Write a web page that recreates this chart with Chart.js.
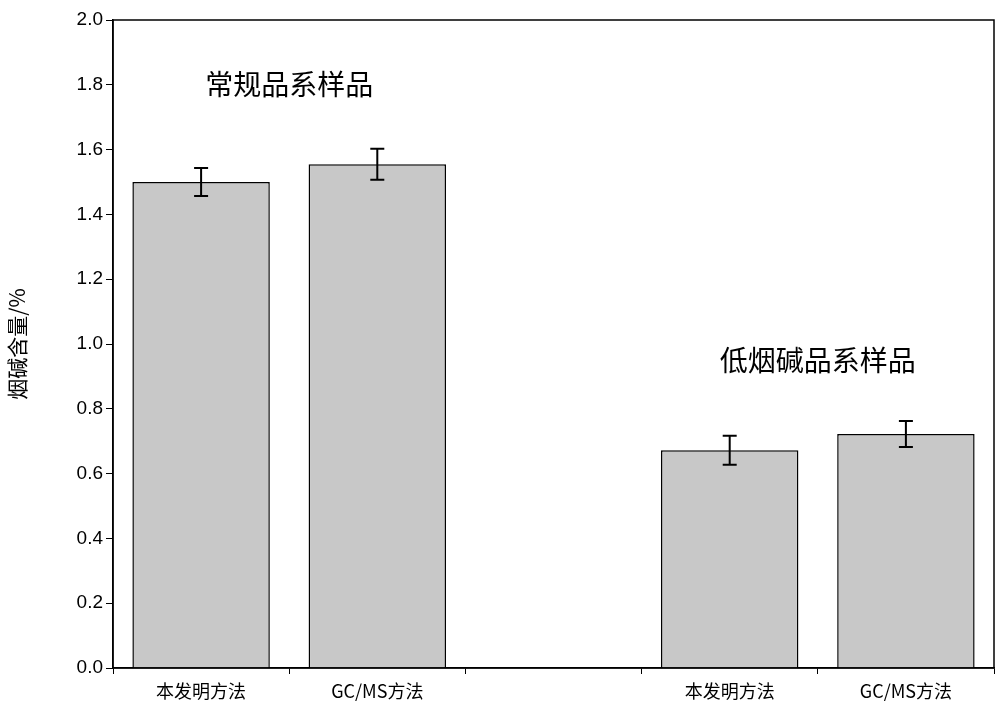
<!DOCTYPE html>
<html><head><meta charset="utf-8">
<script src="https://cdn.jsdelivr.net/npm/chart.js@4"></script>
<style>body{margin:0;background:#fff}#w{width:1000px;height:723px}</style>
</head><body><div id="w"><canvas id="c"></canvas></div>
<script>
const categories = ['本发明方法','GC/MS方法','','本发明方法','GC/MS方法'];
const values = [1.50, 1.555, null, 0.672, 0.722];
const errors = [0.043, 0.048, null, 0.045, 0.04];
const groupLabels = ['常规品系样品','低烟碱品系样品'];
const groupLabelPos = [[0.5,1.8],[3.5,0.95]];
const FONT = '"Noto Sans CJK SC", "Liberation Sans", sans-serif';

const extras = {
  id:'extras',
  afterDatasetsDraw(chart){
    const {ctx, scales:{x,y}, chartArea:a} = chart;
    ctx.save();
    ctx.strokeStyle='#000'; ctx.lineWidth=2;
    values.forEach((v,i)=>{
      if(v==null) return;
      const px=x.getPixelForValue(i), t=y.getPixelForValue(v+errors[i]), b=y.getPixelForValue(v-errors[i]);
      ctx.beginPath();
      ctx.moveTo(px,t);ctx.lineTo(px,b);
      ctx.moveTo(px-7,t);ctx.lineTo(px+7,t);
      ctx.moveTo(px-7,b);ctx.lineTo(px+7,b);
      ctx.stroke();
    });
    ctx.fillStyle='#000'; ctx.font='28px '+FONT; ctx.textAlign='center'; ctx.textBaseline='middle';
    groupLabels.forEach((s,i)=>{
      ctx.fillText(s, x.getPixelForValue(groupLabelPos[i][0]), y.getPixelForValue(groupLabelPos[i][1]));
    });
    ctx.lineWidth=1.5; ctx.strokeRect(a.left,a.top,a.right-a.left,a.bottom-a.top);
    ctx.restore();
  }
};

new Chart(document.getElementById('c'),{
  type:'bar',
  data:{labels:categories,datasets:[{data:values,backgroundColor:'#c8c8c8',borderColor:'#000',borderWidth:1.5,barPercentage:0.78,categoryPercentage:1}]},
  options:{
    responsive:true,maintainAspectRatio:false,animation:false,
    layout:{padding:{top:20,right:6,left:0,bottom:8}},
    plugins:{legend:{display:false},tooltip:{enabled:false}},
    scales:{
      x:{grid:{display:true,drawOnChartArea:false,tickLength:6,color:'#000'},border:{color:'#000',width:1.5},
         ticks:{color:'#000',font:{size:18,family:FONT},padding:6},
         afterFit:s=>{s.height=47;}},
      y:{min:0,max:2.0,grid:{drawOnChartArea:false,tickLength:7,color:'#000'},border:{color:'#000',width:1.5},
         ticks:{stepSize:0.2,color:'#000',font:{size:19,family:'"Liberation Sans", sans-serif'},callback:v=>v.toFixed(1)},
         title:{display:true,text:'烟碱含量/%',color:'#000',font:{size:21,family:FONT}},
         afterFit:s=>{s.width=113;}}
    }
  },
  plugins:[extras]
});
</script></body></html>
